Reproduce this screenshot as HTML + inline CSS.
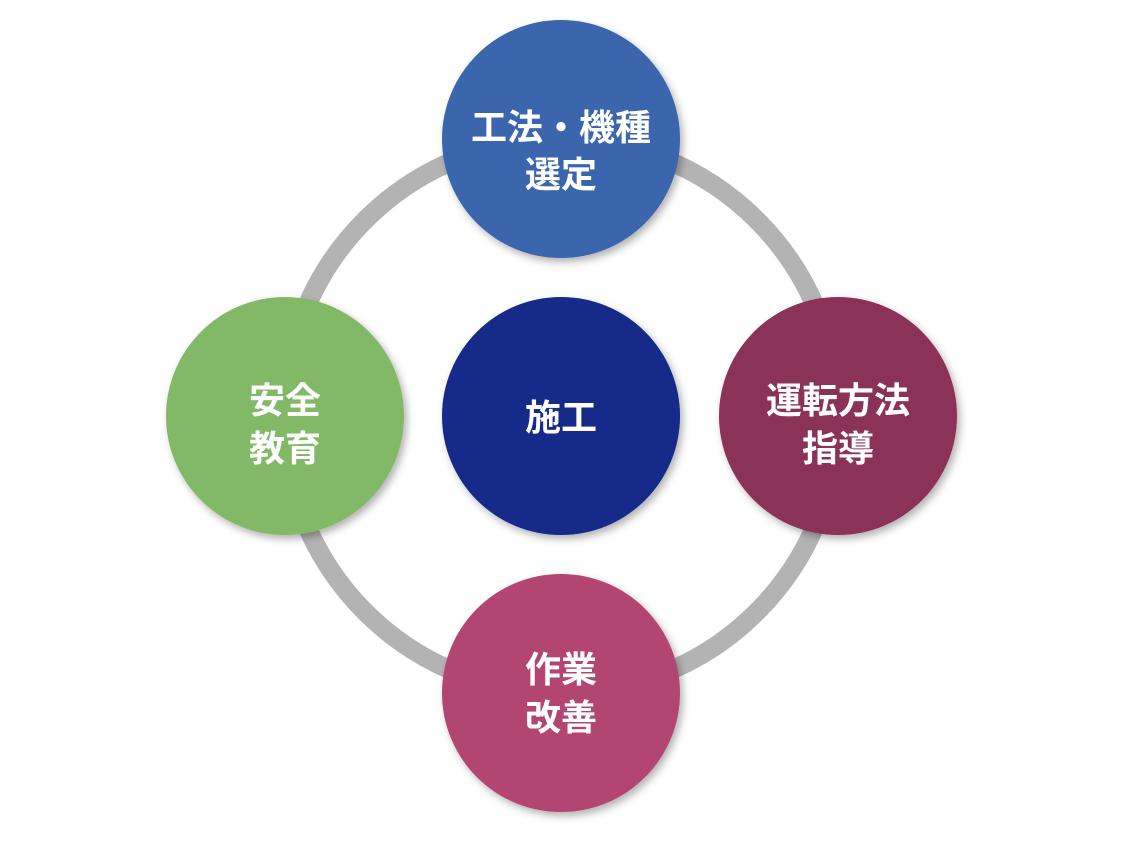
<!DOCTYPE html>
<html><head><meta charset="utf-8"><style>
html,body{margin:0;padding:0;background:#fff;width:1125px;height:844px;overflow:hidden}
text{font-family:"Liberation Sans","Noto Sans CJK JP",sans-serif;font-weight:bold;fill:#fff;font-size:36px;text-anchor:middle}
</style></head><body>
<svg width="1125" height="844" viewBox="0 0 1125 844">
<defs>
<filter id="s" x="-20%" y="-20%" width="140%" height="140%"><feDropShadow dx="3" dy="4" stdDeviation="4" flood-color="#000" flood-opacity="0.3"/></filter>
</defs>
<circle cx="561" cy="416" r="277" fill="none" stroke="#b3b3b3" stroke-width="19"/>
<g filter="url(#s)">
<circle cx="561" cy="139" r="119" fill="#3a65ad"/>
<circle cx="561" cy="416" r="119" fill="#132b8a"/>
<circle cx="285" cy="416" r="119" fill="#82b966"/>
<circle cx="838" cy="416" r="119" fill="#8b3358"/>
<circle cx="561" cy="693" r="119" fill="#b34573"/>
</g>
<text x="561" y="140">工法・機種</text>
<text x="561" y="187">選定</text>
<text x="561" y="430">施工</text>
<text x="285" y="413">安全</text>
<text x="285" y="461">教育</text>
<text x="838" y="413">運転方法</text>
<text x="838" y="461">指導</text>
<text x="561" y="682">作業</text>
<text x="561" y="730">改善</text>
</svg>
</body></html>
